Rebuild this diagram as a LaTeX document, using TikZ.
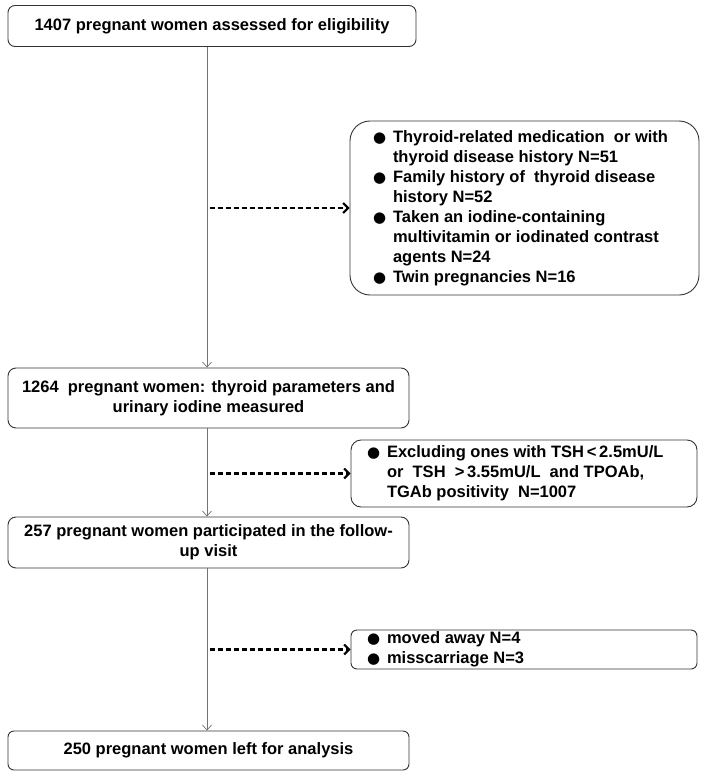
\documentclass[tikz,border=0pt]{standalone}
\usepackage{fontspec}
\setmainfont{Liberation Sans}
\newfontfamily\symfont{DejaVu Sans}
\usetikzlibrary{arrows.meta}
\newcommand{\itm}[1]{\hangindent=20pt\hangafter=1\noindent\makebox[20pt][l]{{\symfont\fontsize{15}{20}\selectfont ●}}#1\par}
\newcommand{\nl}{\hfil\break}
\tikzset{
  x=1pt, y=-1pt,
  every node/.style={font=\fontsize{16.5}{20}\selectfont\bfseries},
  mainbox/.style={draw=black!80, line width=0.9pt, rounded corners=7pt, inner sep=0pt, align=center},
  exbox/.style={draw=black!80, line width=0.9pt, inner sep=0pt},
  flow/.style={draw=black!55, line width=0.7pt, -{Straight Barb[length=5pt,width=9pt,line width=0.7pt]}},
  dashflow/.style={draw=black, line width=2.4pt, dash pattern=on 5pt off 3pt, -{Straight Barb[length=5pt,width=10pt,line width=2pt]}}
}
\begin{document}
\begin{tikzpicture}
\useasboundingbox[fill=white] (0,0) rectangle (702,781);
\node[mainbox, minimum width=408pt, minimum height=41pt] (b1) at (212,26) {1407 pregnant women assessed for eligibility};
\node[exbox, rounded corners=20pt, minimum width=349pt, minimum height=174pt] (e1) at (524.5,208) {\parbox{303pt}{\fontsize{16.5}{20}\selectfont\bfseries
\itm{Thyroid-related medication\ \ or with\nl thyroid disease history N=51}%
\itm{Family history of\ \ thyroid disease\nl history N=52}%
\itm{Taken an iodine-containing\nl multivitamin or iodinated contrast\nl agents N=24}%
\itm{Twin pregnancies N=16}}};
\node[mainbox, rounded corners=8pt, minimum width=401pt, minimum height=60pt] (b2) at (208.5,398) {1264\ \ pregnant women: thyroid parameters and\\urinary iodine measured};
\node[exbox, rounded corners=10pt, minimum width=346pt, minimum height=67pt] (e2) at (524,473.5) {\parbox{314pt}{\fontsize{16.5}{20}\selectfont\bfseries
\itm{Excluding ones with TSH\,<\,2.5mU/L\nl or\ \ TSH\ \ >\,3.55mU/L\ \ and TPOAb,\nl TGAb positivity\ \ N=1007}}};
\node[mainbox, rounded corners=8pt, minimum width=401pt, minimum height=51pt] (b3) at (208.5,542.5) {257 pregnant women participated in the follow-\\up visit};
\node[exbox, rounded corners=6pt, minimum width=346pt, minimum height=39pt] (e3) at (524,649.5) {\parbox{314pt}{\fontsize{16.5}{20}\selectfont\bfseries
\itm{moved away N=4}%
\itm{misscarriage N=3}}};
\node[mainbox, rounded corners=6pt, minimum width=401pt, minimum height=39pt] (b4) at (208.5,750.5) {250 pregnant women left for analysis};
\coordinate (spine) at (207,0);
\draw[flow] (b1.south -| spine) -- (b2.north -| spine);
\draw[flow] (b2.south -| spine) -- (b3.north -| spine);
\draw[flow] (b3.south -| spine) -- (b4.north -| spine);
\coordinate (d1) at (210,208);
\coordinate (d2) at (210,473.5);
\coordinate (d3) at (210,649.5);
\draw[dashflow] (d1) -- (e1.west);
\draw[dashflow] (d2) -- (e2.west);
\draw[dashflow] (d3) -- (e3.west);
\end{tikzpicture}
\end{document}
